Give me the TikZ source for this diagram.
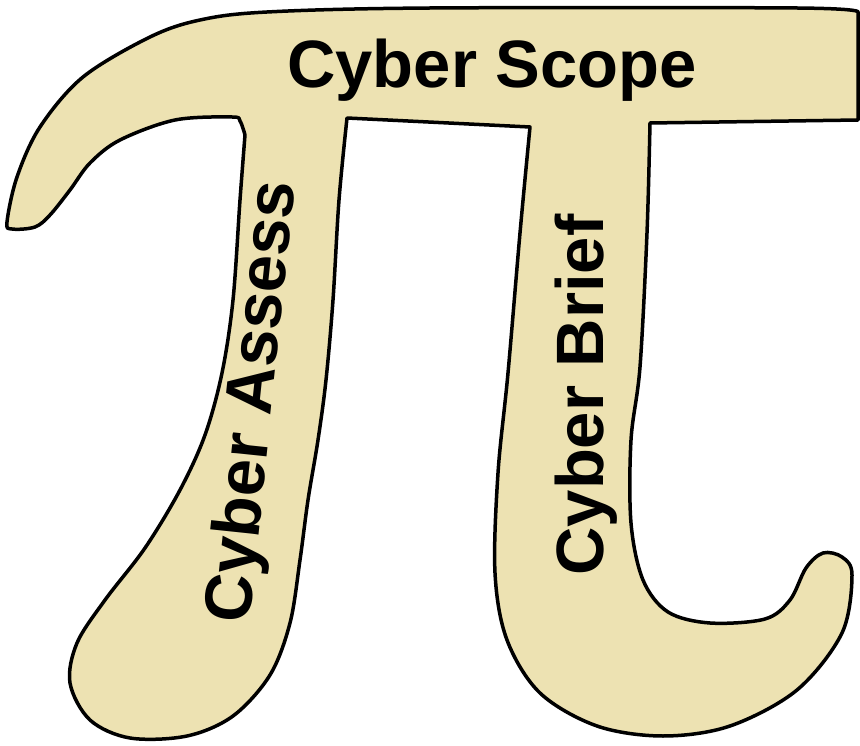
\documentclass[tikz,border=0pt]{standalone}
\usepackage{fontspec}
\setmainfont{Liberation Sans}
\definecolor{pifill}{RGB}{237,226,178}
\begin{document}
\begin{tikzpicture}[x=1pt,y=-1pt,
  outline/.style={draw=black,line width=3.5pt,fill=pifill,line join=round},
  label/.style={font=\fontsize{67}{78}\selectfont\bfseries,inner sep=0pt,text=black}]
\useasboundingbox (0,0) rectangle (860,746);
\path[outline]
  (858,12) -- (858,120) -- (650,123)
  -- plot[smooth,tension=0.55] coordinates {(650,123) (647,233) (640,367) (631,440) (631,523) (643,580) (668,612) (710,623) (765,619) (790,600) (806,568) (823,553) (842,557) (852,575) (842,633) (797,690) (730,726) (663,736) (597,726) (540,693) (507,640) (495,573) (498,473) (508,373) (520,233) (530,127)}
  -- (347,118)
  -- plot[smooth,tension=0.55] coordinates {(347,118) (339,200) (333,300) (326,380) (318,440) (308,500) (300,560) (290,623) (270,675) (233,716) (187,736) (130,738) (90,720) (70,683) (77,643) (105,600) (145,548) (180,490) (205,435) (222,373) (233,300) (240,200) (245,135)}
  -- plot[smooth,tension=0.55] coordinates {(245,135) (240,121) (232,117) (175,120) (120,140) (90,163) (70,190) (50,215) (35,227) (12,229) (7,222) (17,177) (40,127) (83,77) (150,37) (200,20) (267,12) (430,8) (797,8) (858,12)}
  -- cycle;
\node[label] (scope) at (492,70) {Cyber Scope};
\node[label,rotate=84] (assess) at (255,402) {Cyber Assess};
\node[label,rotate=90] (brief) at (586,395) {Cyber Brief};
\end{tikzpicture}
\end{document}
